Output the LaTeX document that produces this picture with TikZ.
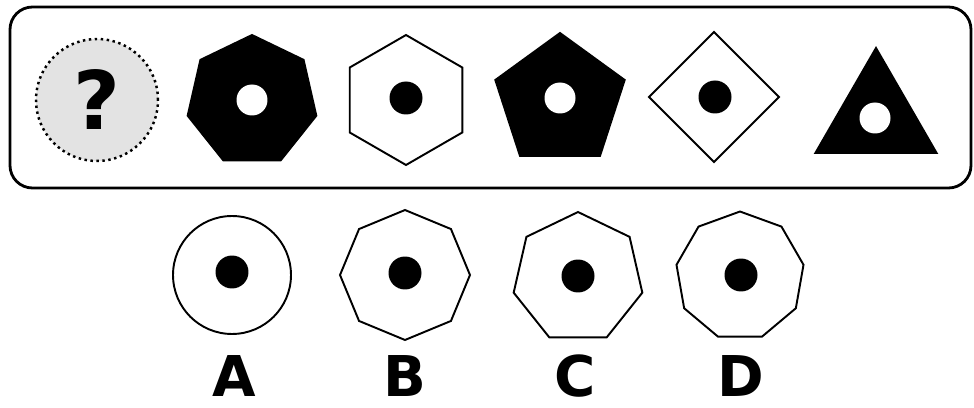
\documentclass[tikz,border=0pt]{standalone}
\usepackage{fontspec}
\setsansfont{DejaVu Sans}
\usetikzlibrary{shapes.geometric,positioning}
\tikzset{
  figure/.style={
    regular polygon,
    draw=black,
    fill=white,
    line width=1.1pt,
    inner sep=0pt
  },
  solid figure/.style={
    figure,
    fill=black
  },
  hole/.style={
    circle,
    fill=white,
    inner sep=0pt,
    minimum size=0.62cm
  },
  dot/.style={
    circle,
    fill=black,
    inner sep=0pt,
    minimum size=0.66cm
  },
  option label/.style={
    inner sep=0pt,
    anchor=base,
    font=\sffamily\bfseries\fontsize{32}{32}\selectfont
  }
}

\begin{document}
\begin{tikzpicture}[x=0.02cm, y=-0.02cm]
  \useasboundingbox (0,0) rectangle (974,408);

  % Sequence panel
  \draw[line width=1.6pt, rounded corners=0.45cm] (10,7) rectangle (971,188);

  % Unknown term
  \node[circle, draw=black, dotted, line width=1.4pt, fill=gray!22,
        minimum size=2.44cm, inner sep=0pt] (unknown) at (97,100) {};
  \node[font=\sffamily\bfseries\fontsize{46}{46}\selectfont, inner sep=0pt]
        (qmark) at (unknown) {?};

  % Sequence
  \node[solid figure, regular polygon sides=7, minimum size=2.64cm] (hepta) at (252,101) {};
  \node[hole] (hepta hole) at (252,100) {};

  \node[figure, regular polygon sides=6, shape border rotate=30, minimum size=2.6cm] (hexa) at (406,100) {};
  \node[dot] (hexa dot) at (406,98) {};

  \node[solid figure, regular polygon sides=5, minimum size=2.72cm] (penta) at (560,101) {};
  \node[hole] (penta hole) at (560,98) {};

  \node[figure, regular polygon sides=4, shape border rotate=45, minimum size=2.6cm] (rhombus) at (714,97) {};
  \node[dot] (rhombus dot) at (715,97) {};

  \node[solid figure, regular polygon sides=3, minimum size=2.8cm] (tri) at (876,118) {};
  \node[hole] (tri hole) at (875,118) {};

  % Options
  \node[figure, circle, minimum size=2.36cm] (optA) at (232,275) {};
  \node[dot] (optA dot) at (232,272) {};
  \node[option label] (labA) at (234,397) {A};

  \node[figure, regular polygon sides=8, shape border rotate=22.5, minimum size=2.6cm] (optB) at (405,275) {};
  \node[dot] (optB dot) at (405,273) {};
  \node[option label] (labB) at (405,397) {B};

  \node[figure, regular polygon sides=7, minimum size=2.64cm] (optC) at (578,278) {};
  \node[dot] (optC dot) at (578,276) {};
  \node[option label] (labC) at (575,397) {C};

  \node[figure, regular polygon sides=9, minimum size=2.58cm] (optD) at (740,276) {};
  \node[dot] (optD dot) at (741,275) {};
  \node[option label] (labD) at (741,397) {D};
\end{tikzpicture}
\end{document}
